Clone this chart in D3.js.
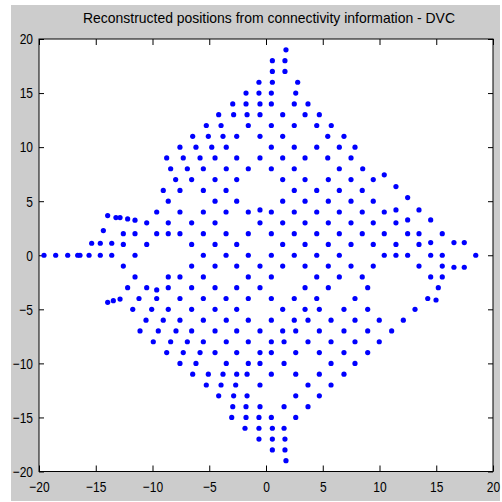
<!DOCTYPE html>
<html>
<head>
<meta charset="utf-8">
<script src="https://cdn.jsdelivr.net/npm/d3@7"></script>
<style>
  html, body { margin: 0; padding: 0; background: #fff; }
  svg { display: block; }
  text { font-family: "Liberation Sans", Arial, sans-serif; fill: #000; }
</style>
</head>
<body>
<div id="chart"></div>
<script>
// row heights of the reconstructed lattice and the x positions found on each row
var rowY = [19, 18, 17, 16, 15, 14, 13, 12, 11, 10, 9, 8, 7, 6, 5, 4, 3, 2, 1, 0,
    -1, -2, -3, -4, -5, -6, -7, -8, -9, -10, -11, -12, -13, -14, -15, -16, -17, -18, -19];

var rowX = [
    [1.76],
    [0.56, 1.67],
    [0.56, 1.67],
    [-0.62, 0.56, 2.79],
    [-1.76, -0.62, 0.47, 2.62],
    [-2.93, -1.76, -0.53, 0.47, 2.49, 3.70],
    [-4.17, -2.85, -1.67, -0.53, 1.47, 3.44, 4.70],
    [-5.26, -3.96, -1.56, 0.47, 2.49, 4.47, 5.75],
    [-6.46, -5.08, -3.79, -2.58, -0.53, 1.47, 5.44, 6.87],
    [-7.58, -6.17, -4.78, -3.50, 0.47, 2.49, 4.47, 6.46, 7.84],
    [-8.75, -7.29, -5.81, -4.49, -2.58, -0.53, 1.47, 3.44, 5.44, 7.49],
    [-8.40, -6.93, -5.52, -3.50, -1.56, 0.47, 2.49, 6.46, 8.52],
    [-7.96, -6.55, -4.49, -2.58, 1.47, 3.44, 5.49, 7.49, 9.45],
    [-9.05, -7.58, -5.52, -3.52, 2.49, 4.47, 6.46, 8.48],
    [-8.61, -4.49, -2.58, 1.47, 3.44, 5.49, 7.49, 9.45],
    [-9.63, -7.58, -5.52, -3.52, -1.56, 0.47, 2.49, 4.47, 6.46, 8.48, 10.42],
    [-10.51, -8.61, -6.55, -4.49, -0.53, 1.47, 3.44, 5.49, 7.49, 9.45, 11.45],
    [-12.57, -11.54, -9.63, -8.61, -7.58, -5.52, -3.52, -1.56, 0.47, 2.49, 4.47, 6.46, 8.48, 10.42, 12.48, 13.48, 15.53],
    [-12.57, -10.51, -6.55, -4.49, -2.58, 1.47, 3.44, 5.49, 7.49, 9.45, 11.45, 13.48],
    [-19.56, -18.53, -17.47, -16.59, -16.39, -15.59, -14.60, -13.59, -11.54, -5.52, -3.52, -1.56, 0.47, 2.49, 4.47, 6.46, 10.42, 11.45, 12.48, 14.51, 15.53, 18.48],
    [-12.57, -6.55, -4.49, -2.58, -0.53, 1.47, 3.44, 5.49, 7.49, 9.45, 13.48, 15.53],
    [-11.54, -8.61, -7.58, -5.52, -1.56, 0.47, 4.47, 6.46, 8.48, 14.51, 15.53],
    [-12.19, -10.51, -8.61, -6.55, -4.49, -2.58, -0.53, 3.44, 5.49, 8.96, 15.18],
    [-11.19, -9.63, -7.58, -5.52, -3.52, -1.56, 0.47, 2.49, 4.47, 7.84, 14.25],
    [-11.74, -10.07, -8.61, -6.55, -4.49, -2.58, 1.47, 3.44, 4.70, 6.87, 8.96, 13.13],
    [-10.57, -9.05, -7.58, -5.52, -3.50, -1.56, 0.47, 2.49, 3.70, 5.73, 7.84, 9.98, 12.10],
    [-11.10, -9.49, -7.93, -6.55, -4.49, -2.58, -0.53, 1.47, 2.62, 4.70, 6.87, 8.96, 11.07],
    [-9.93, -8.40, -6.93, -5.52, -3.50, -1.56, 0.47, 1.59, 3.70, 5.73, 7.84, 9.98],
    [-8.75, -7.29, -5.81, -4.49, -2.58, -0.53, 0.47, 2.62, 4.70, 6.87, 8.96],
    [-7.58, -6.17, -3.50, -1.56, -0.53, 1.59, 5.73, 7.84],
    [-6.46, -5.08, -3.79, -2.58, -1.67, 0.47, 2.62, 4.70, 6.87],
    [-5.26, -3.96, -2.67, -0.53, 3.70, 5.73],
    [-4.17, -2.85, -1.67, 2.62, 4.70],
    [-2.93, -1.76, -0.53, 1.59, 3.70],
    [-3.02, -1.76, -0.62, 0.47, 2.62],
    [-1.85, -0.62, 0.56, 1.59],
    [-0.62, 0.56, 1.67],
    [0.56, 1.67],
    [1.76]
];

// points that sit off the rows
var looseX = [10.42, 11.45, 12.48, -0.53, 11.45, 13.48, -13.95, -13.22, -12.86, -12.19, -11.54, 12.48, 14.51,
    -14.33, -15.36, -14.60, -13.59, 14.51, 16.56, 17.47, 16.56, 17.47, -9.63, -13.95, -13.45, -12.86, 14.98];
var looseY = [7.44, 6.35, 5.33, 4.19, 4.19, 4.19, 3.67, 3.48, 3.48, 3.36, 3.24, 3.27, 3.27,
    2.28, 1.11, 1.11, 1.11, 1.17, 1.17, 1.17, -1.11, -1.11, -3.21, -4.35, -4.20, -4.05, -4.14];

var xTicks = [-20, -15, -10, -5, 0, 5, 10, 15, 20];
var yTicks = [-20, -15, -10, -5, 0, 5, 10, 15, 20];
var title = "Reconstructed positions from connectivity information - DVC";

var points = [];
rowY.forEach(function(y, i) {
    rowX[i].forEach(function(x) { points.push({x: x, y: y}); });
});
looseX.forEach(function(x, i) { points.push({x: x, y: looseY[i]}); });

var W = 502, H = 502;
var plotLeft = 39, plotRight = 493, plotTop = 39, plotBottom = 471.5;

var svg = d3.select("#chart").append("svg")
    .attr("width", W)
    .attr("height", H);

// figure background
svg.append("rect")
    .attr("x", 11).attr("y", 5)
    .attr("width", 489).attr("height", 496)
    .attr("fill", "#cccccc");

svg.append("rect")
    .attr("x", plotLeft).attr("y", plotTop)
    .attr("width", plotRight - plotLeft).attr("height", plotBottom - plotTop)
    .attr("fill", "#fff");

var x = d3.scaleLinear().domain([-20, 20]).range([plotLeft, plotRight]);
var y = d3.scaleLinear().domain([-20, 20]).range([plotBottom, plotTop]);

var squeeze = 0.8;

// bottom axis with labels
var gx = svg.append("g")
    .attr("transform", "translate(0," + plotBottom + ")")
    .call(d3.axisBottom(x).tickValues(xTicks).tickSizeInner(-6).tickSizeOuter(0).tickPadding(9.5));
gx.selectAll("text")
    .attr("font-size", "15px")
    .attr("transform", "scale(" + squeeze + ",1)");

// top axis, ticks only
svg.append("g")
    .attr("transform", "translate(0," + plotTop + ")")
    .call(d3.axisTop(x).tickValues(xTicks).tickSizeInner(-6).tickSizeOuter(0).tickFormat(""));

// left axis with labels
var gy = svg.append("g")
    .attr("transform", "translate(" + plotLeft + ",0)")
    .call(d3.axisLeft(y).tickValues(yTicks).tickSizeInner(-5).tickSizeOuter(0));
gy.selectAll("text")
    .attr("font-size", "15px")
    .attr("x", -6 / squeeze)
    .attr("transform", "scale(" + squeeze + ",1)");

// right axis, ticks only
svg.append("g")
    .attr("transform", "translate(" + plotRight + ",0)")
    .call(d3.axisRight(y).tickValues(yTicks).tickSizeInner(-5).tickSizeOuter(0).tickFormat(""));

svg.selectAll(".domain").remove();
svg.selectAll(".tick line").attr("stroke", "#000");
svg.selectAll(".tick text").attr("fill", "#000").style("font-family", "'Liberation Sans', Arial, sans-serif");

// box
svg.append("rect")
    .attr("x", plotLeft).attr("y", plotTop)
    .attr("width", plotRight - plotLeft).attr("height", plotBottom - plotTop)
    .attr("fill", "none")
    .attr("stroke", "#000")
    .attr("stroke-width", 1);

svg.append("text")
    .attr("x", (plotLeft + plotRight) / 2 + 3)
    .attr("y", 23)
    .attr("text-anchor", "middle")
    .attr("font-size", "15px")
    .attr("textLength", 372)
    .attr("lengthAdjust", "spacingAndGlyphs")
    .text(title);

svg.append("g")
    .selectAll("circle")
    .data(points)
    .enter().append("circle")
    .attr("cx", function(d) { return x(d.x); })
    .attr("cy", function(d) { return y(d.y); })
    .attr("r", 2.6)
    .attr("fill", "#0000ff");
</script>
</body>
</html>
